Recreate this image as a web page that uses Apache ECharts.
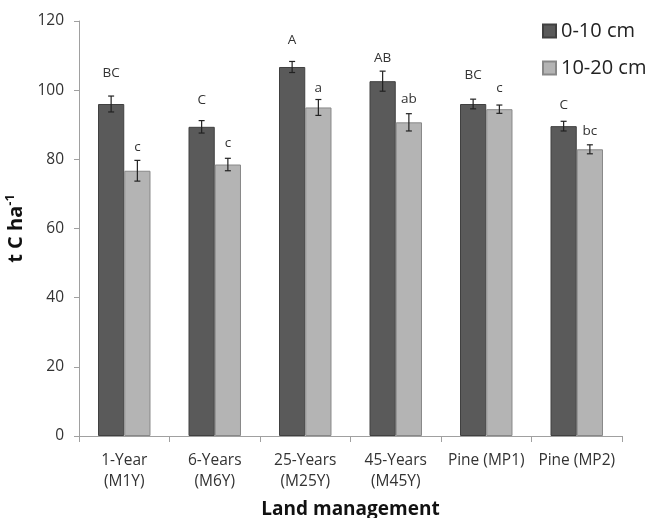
<!DOCTYPE html>
<html><head><meta charset="utf-8">
<script src="https://cdn.jsdelivr.net/npm/echarts@6/dist/echarts.min.js"></script>
<style>html,body{margin:0;padding:0;background:#fff}#c{width:648px;height:518px}</style>
</head><body><div id="c"></div>
<script>
const categories = ['1-Year\n(M1Y)', '6-Years\n(M6Y)', '25-Years\n(M25Y)', '45-Years\n(M45Y)', 'Pine (MP1)', 'Pine (MP2)'];
const seriesNames = ['0-10 cm', '10-20 cm'];
const shallow = [96.0, 89.4, 106.7, 102.6, 96.0, 89.6];
const shallowErr = [2.3, 1.8, 1.6, 2.9, 1.4, 1.4];
const deep = [76.7, 78.5, 95.0, 90.7, 94.5, 82.9];
const deepErr = [3.0, 1.8, 2.3, 2.5, 1.2, 1.3];
const shallowLetters = ['BC', 'C', 'A', 'AB', 'BC', 'C'];
const deepLetters = ['c', 'c', 'a', 'ab', 'c', 'bc'];
const shallowLetterY = [105.0, 97.1, 114.6, 109.4, 104.3, 95.6];
const deepLetterY = [83.6, 84.6, 100.5, 97.3, 100.5, 88.2];
const yTicks = {min: 0, max: 120, interval: 20};

const BARFRAC = 0.29;
const FONT = '"Open Sans", sans-serif';

function errData(vals, errs, letters, ly) {
  return vals.map((v, i) => [i, v, errs[i], letters[i], ly[i]]);
}
function makeRender(side) {
  return function (params, api) {
    const i = api.value(0), v = api.value(1), e = api.value(2);
    const band = api.size([1, 0])[0];
    const bw = band * BARFRAC;
    const c = api.coord([i, v]);
    const x = c[0] + side * bw / 2;
    const top = api.coord([i, v + e])[1];
    const bot = api.coord([i, v - e])[1];
    const ly = api.coord([i, api.value(4)])[1];
    const st = {stroke: '#222', lineWidth: 1.2};
    return {type: 'group', children: [
      {type: 'line', shape: {x1: x, y1: top, x2: x, y2: bot}, style: st},
      {type: 'line', shape: {x1: x - 3, y1: top, x2: x + 3, y2: top}, style: st},
      {type: 'line', shape: {x1: x - 3, y1: bot, x2: x + 3, y2: bot}, style: st},
      {type: 'text', x: x, y: ly, style: {text: api.value(3), fill: '#333', font: '13.5px ' + FONT, align: 'center', verticalAlign: 'middle'}}
    ]};
  };
}

const chart = echarts.init(document.getElementById('c'));
chart.setOption({
  animation: false,
  backgroundColor: '#fff',
  grid: {left: 79, right: 26, top: 21, bottom: 82, containLabel: false, outerBoundsMode: 'none'},
  legend: {
    orient: 'vertical', left: 537, top: 15, itemWidth: 13, itemHeight: 13, itemGap: 15,
    icon: 'rect',
    textStyle: {fontFamily: FONT, fontSize: 20, color: '#222', lineHeight: 22},
    data: seriesNames
  },
  xAxis: {
    type: 'category', data: categories,
    axisLine: {lineStyle: {color: '#a0a0a0'}},
    axisTick: {show: true, length: 6, lineStyle: {color: '#a0a0a0'}},
    axisLabel: {fontFamily: FONT, fontSize: 15.5, color: '#333', lineHeight: 21, margin: 14, interval: 0},
    name: 'Land management', nameLocation: 'middle', nameGap: 64,
    nameTextStyle: {fontFamily: FONT, fontSize: 19, fontWeight: 'bold', color: '#111'}
  },
  yAxis: {
    type: 'value', min: yTicks.min, max: yTicks.max, interval: yTicks.interval,
    splitLine: {show: false},
    axisLine: {show: true, lineStyle: {color: '#a0a0a0'}},
    axisTick: {show: true, length: 5, lineStyle: {color: '#a0a0a0'}},
    axisLabel: {fontFamily: FONT, fontSize: 15.5, color: '#333', margin: 15},
    name: '{a|t C ha}{b|-1}', nameLocation: 'middle', nameGap: 45,
    nameTextStyle: {
      rich: {
        a: {fontFamily: FONT, fontSize: 20, fontWeight: 'bold', color: '#111', lineHeight: 26},
        b: {fontFamily: FONT, fontSize: 13, fontWeight: 'bold', color: '#111', verticalAlign: 'top', lineHeight: 26, padding: [0, 0, 10, 0]}
      }
    }
  },
  series: [
    {name: seriesNames[0], type: 'bar', data: shallow, barWidth: (BARFRAC * 100) + '%', barGap: '0%',
     itemStyle: {color: '#5a5a5a', borderColor: '#404040', borderWidth: 1}},
    {name: seriesNames[1], type: 'bar', data: deep, barWidth: (BARFRAC * 100) + '%', barGap: '0%',
     itemStyle: {color: '#b4b4b4', borderColor: '#888', borderWidth: 1}},
    {type: 'custom', renderItem: makeRender(-1), data: errData(shallow, shallowErr, shallowLetters, shallowLetterY), z: 10, silent: true},
    {type: 'custom', renderItem: makeRender(1), data: errData(deep, deepErr, deepLetters, deepLetterY), z: 10, silent: true}
  ]
});
</script></body></html>
